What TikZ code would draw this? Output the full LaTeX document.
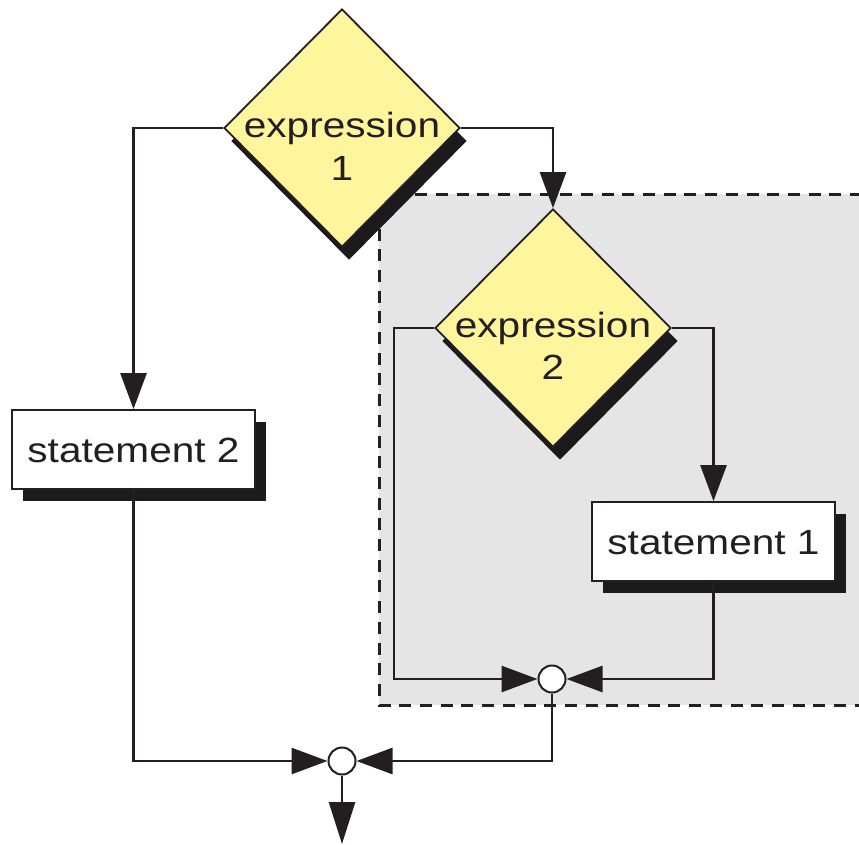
\documentclass[tikz,border=0pt]{standalone}
\usepackage{fontspec}
\newfontfamily\labfont[FakeStretch=1.16]{Liberation Sans}
\usetikzlibrary{arrows.meta,shapes.geometric,shadows}

\definecolor{ink}{HTML}{231F20}
\definecolor{decfill}{HTML}{FFF59D}
\definecolor{panel}{HTML}{E5E5E5}
\definecolor{shade}{HTML}{1B1A1C}

\tikzset{
  lbl/.style={font=\labfont\fontsize{35pt}{43pt}\selectfont, text=ink, inner sep=0pt},
  decision/.style={diamond, draw=ink, line width=1.8pt, fill=decfill,
    minimum width=236pt, minimum height=238pt, inner sep=0pt,
    drop shadow={shadow xshift=7pt, shadow yshift=-13pt, fill=shade, opacity=1}},
  stmt/.style={rectangle, draw=ink, line width=1.8pt, fill=white,
    minimum width=243pt, minimum height=79pt, inner sep=0pt,
    text height=25pt, text depth=0pt,
    font=\labfont\fontsize{35pt}{43pt}\selectfont, text=ink,
    drop shadow={shadow xshift=11pt, shadow yshift=-12pt, fill=shade, opacity=1}},
  junction/.style={circle, draw=ink, line width=2pt, fill=white,
    minimum size=27pt, inner sep=0pt},
  flow/.style={draw=ink, line width=2.7pt},
  arr/.style={flow, -{Triangle[length=36pt,width=26pt]}},
  longarr/.style={flow, -{Triangle[length=42pt,width=26pt]}},
  panelline/.style={draw=ink, line width=3pt, dash pattern=on 12pt off 8.7pt}
}

\begin{document}
\begin{tikzpicture}[x=1pt, y=-1pt]
  \useasboundingbox (0,0) rectangle (859,844);

  % shaded region around the inner decision
  \fill[panel] (379,194) rectangle (859,705);
  \draw[panelline] (862,194) -- (379,194) -- (379,705) -- (862,705);

  % decisions
  \node[decision] (d1) at (342,128) {};
  \node[lbl, anchor=base] (d1a) at (342,137) {expression};
  \node[lbl, anchor=base] (d1b) at (342,180) {1};

  \node[decision] (d2) at (553,328) {};
  \node[lbl, anchor=base] (d2a) at (553,337) {expression};
  \node[lbl, anchor=base] (d2b) at (553,379) {2};

  % statements
  \node[stmt] (s2) at (133.5,449.5) {statement 2};
  \node[stmt] (s1) at (713.5,541.5) {statement 1};

  % junctions
  \node[junction] (j1) at (552,679) {};
  \node[junction] (j2) at (342,761) {};

  \coordinate (c1) at (394,679);
  \coordinate (out) at (342,844);

  % connectors
  \draw[arr] (d1.west) -| (s2.north);
  \draw[arr] (d1.east) -| (d2.north);
  \draw[arr] (d2.east) -| (s1.north);
  \draw[arr] (d2.west) -| (c1) -- (j1.west);
  \draw[arr] (s1.south) |- (j1.east);
  \draw[arr] (j1.south) |- (j2.east);
  \draw[arr] (s2.south) |- (j2.west);
  \draw[longarr] (j2.south) -- (out);
\end{tikzpicture}
\end{document}
